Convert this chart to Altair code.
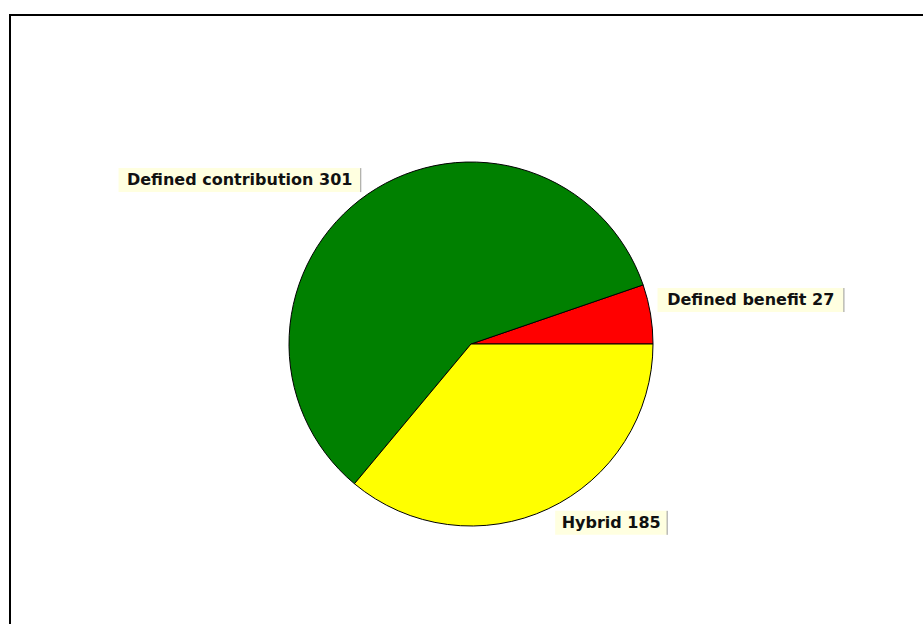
import math
import altair as alt
import pandas as pd

# ---- data ----
categories = ["Defined benefit", "Defined contribution", "Hybrid"]
values = [27, 301, 185]
colors = ["#FF0000", "#008000", "#FFFF00"]
# clockwise drawing order starting at 3 o'clock
draw_order = [2, 1, 0]

W, H = 923, 624
CX, CY = 471, 344
R = 182

df = pd.DataFrame({"cat": categories, "value": values, "ord": draw_order})
df["label"] = [f"{c} {v}" for c, v in zip(categories, values)]

xs = alt.Scale(domain=[-CX, W - CX], nice=False, zero=False)
ys = alt.Scale(domain=[CY - H, CY], nice=False, zero=False)

base = alt.Chart(df)

pie = base.mark_arc(outerRadius=R, stroke="black", strokeWidth=1).encode(
    x=alt.XDatum(0, type="quantitative", scale=xs, axis=None),
    y=alt.YDatum(0, type="quantitative", scale=ys, axis=None),
    theta=alt.Theta("value:Q", stack=True,
                    scale=alt.Scale(range=[math.pi / 2, math.pi / 2 + 2 * math.pi])),
    color=alt.Color("cat:N", scale=alt.Scale(domain=categories, range=colors), legend=None),
    order=alt.Order("ord:Q", sort="ascending"),
)

lab = base.transform_joinaggregate(total="sum(value)").transform_window(
    cum="sum(value)", sort=[alt.SortField("ord")], frame=[None, 0]
).transform_calculate(
    mid="PI/2 + 2*PI*(datum.cum - datum.value/2)/datum.total",
    ax=f"{R}*sin(datum.mid)",
    ay=f"{R}*cos(datum.mid)",
    sx="sin(datum.mid) >= 0 ? 1 : -1",
    sy="cos(datum.mid) >= 0 ? 1 : -1",
    bw="length(datum.label)*9.3 + 19",
    x0="datum.ax + datum.sx*7",
    x1="datum.x0 + datum.sx*datum.bw",
    yc="datum.ay + datum.sy*14",
    bxl="min(datum.x0, datum.x1)",
    bxr="max(datum.x0, datum.x1)",
    xc="(datum.x0 + datum.x1)/2",
    yt="datum.yc + 12",
    yb="datum.yc - 12",
)

boxes = lab.mark_rect(fill="#FFFFE0").encode(
    x=alt.X("bxl:Q", scale=xs, axis=None),
    x2="bxr:Q",
    y=alt.Y("yb:Q", scale=ys, axis=None),
    y2="yt:Q",
)
edges = lab.mark_rule(color="#9a9a9a", strokeWidth=1).encode(
    x=alt.X("bxr:Q", scale=xs, axis=None),
    y=alt.Y("yb:Q", scale=ys, axis=None),
    y2="yt:Q",
)
texts = lab.mark_text(font="DejaVu Sans", fontWeight="bold", fontSize=16,
                      color="#111111", align="center", baseline="middle").encode(
    x=alt.X("xc:Q", scale=xs, axis=None),
    y=alt.Y("yc:Q", scale=ys, axis=None),
    text="label:N",
)

frame_data = alt.Data(values=[{"f": 1}])
frame_left = alt.Chart(frame_data).mark_rule(color="black", strokeWidth=2).encode(
    x=alt.value(10), y=alt.value(15), y2=alt.value(H)
)
frame_top = alt.Chart(frame_data).mark_rule(color="black", strokeWidth=2).encode(
    x=alt.value(9), x2=alt.value(W), y=alt.value(15)
)

chart = alt.layer(frame_left, frame_top, pie, boxes, edges, texts).properties(
    width=W, height=H, autosize="none", padding=0, background="white"
).configure_view(stroke=None)

chart.save("out.html", embed_options={"renderer": "svg", "actions": False})
